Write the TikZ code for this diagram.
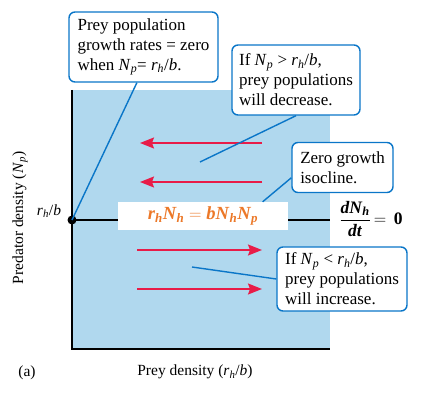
\documentclass[tikz,border=0pt]{standalone}
\usepackage{amsmath}
\usepackage{fontspec}
\setmainfont{Liberation Serif}
\usetikzlibrary{arrows.meta,calc}
\definecolor{bluefill}{RGB}{176,216,238}
\definecolor{lineblue}{RGB}{10,118,200}
\definecolor{arrowred}{RGB}{232,28,72}
\definecolor{eqorange}{RGB}{236,120,40}
\newcommand{\vi}[1]{\textit{#1}}
\newcommand{\bvi}[1]{\textbf{\textit{#1}}}
\begin{document}
\begin{tikzpicture}[x=1pt,y=-1pt,
  axis/.style={draw=black,line width=1.2pt},
  callout/.style={draw=lineblue,fill=white,line width=1.4pt,rounded corners=6pt,
    align=left,inner xsep=4pt,inner ysep=2pt,font=\fontsize{17}{20}\selectfont},
  pointer/.style={draw=lineblue,line width=1.4pt},
  redarrow/.style={draw=arrowred,line width=1.6pt,-{Stealth[length=14pt,width=11pt,inset=2pt]}},
  blackdot/.style={circle,fill=black,inner sep=0pt,minimum size=9pt},
  eqbox/.style={fill=white,inner sep=0pt,minimum width=170pt,minimum height=28pt,
    text=eqorange,font=\fontsize{18.5}{20}\selectfont},
  lab/.style={font=\fontsize{15.5}{18}\selectfont}]
\useasboundingbox (0,0) rectangle (421,398);
% background region
\fill[bluefill] (72,90) rectangle (330,349);
\coordinate (ytop) at (72,90);
\coordinate (orig) at (72,349);
\coordinate (xend) at (330,349);
\draw[axis] (ytop) -- (orig) -- (xend);
% isocline
\node[blackdot] (dot) at (72,220) {};
\coordinate (isoend) at (330,220);
\draw[axis] (dot.center) -- (isoend);
\node[eqbox] (eq) at (203,216) {$\bvi{r}_{\bvi{h}}\bvi{N}_{\bvi{h}}\mathbf{\;=\;}\bvi{b}\bvi{N}_{\bvi{h}}\bvi{N}_{\bvi{p}}$};
\node[font=\fontsize{17.5}{20}\selectfont,inner sep=0pt] (dndt) at (371,219) {$\dfrac{\bvi{dN}_{\bvi{h}}}{\bvi{dt}}\mathbf{\,=\,0}$};
\node[lab] (rhb) at (49,211) {\vi{r}$_{\vi{h}}$/\vi{b}};
% red arrows
\coordinate (a1s) at (262,143); \coordinate (a1e) at (140,143);
\coordinate (a2s) at (262,182); \coordinate (a2e) at (140,182);
\coordinate (a3s) at (137,250); \coordinate (a3e) at (262,250);
\coordinate (a4s) at (137,289); \coordinate (a4e) at (262,289);
\draw[redarrow] (a1s) -- (a1e);
\draw[redarrow] (a2s) -- (a2e);
\draw[redarrow] (a3s) -- (a3e);
\draw[redarrow] (a4s) -- (a4e);
% callouts
\node[callout,minimum width=149pt,minimum height=70pt] (box1) at (143.5,47)
  {Prey population\\growth rates = zero\\when \vi{N}$_{\vi{p}}$= \vi{r}$_{\vi{h}}$/\vi{b}.};
\node[callout,minimum width=128pt,minimum height=70pt] (box2) at (296,80)
  {If \vi{N}$_{\vi{p}}$ > \vi{r}$_{\vi{h}}$/\vi{b},\\prey populations\\will decrease.};
\node[callout,minimum width=101pt,minimum height=50pt] (box3) at (342.5,167.5)
  {Zero growth\\isocline.};
\node[callout,minimum width=130pt,minimum height=64pt] (box4) at (342,279)
  {If \vi{N}$_{\vi{p}}$ < \vi{r}$_{\vi{h}}$/\vi{b},\\prey populations\\will increase.};
% pointers
\coordinate (c2) at (200,162);
\coordinate (c4) at (192,267);
\draw[pointer] (dot.center) -- ($(box1.south west)!0.456!(box1.south east)$);
\draw[pointer] (box2.south) -- (c2);
\draw[pointer] ($(box3.west)!0.4!(box3.south west)$) -- ($(eq.north west)!0.85!(eq.north east)$);
\draw[pointer] (box4.west) -- (c4);
% axis labels
\node[lab,rotate=90] (ylab) at (20,218) {Predator density (\vi{N}$_{\vi{p}}$)};
\node[lab] (xlab) at (195,372) {Prey density (\vi{r}$_{\vi{h}}$/\vi{b})};
\node[lab] (panel) at (27,373) {(a)};
\end{tikzpicture}
\end{document}
